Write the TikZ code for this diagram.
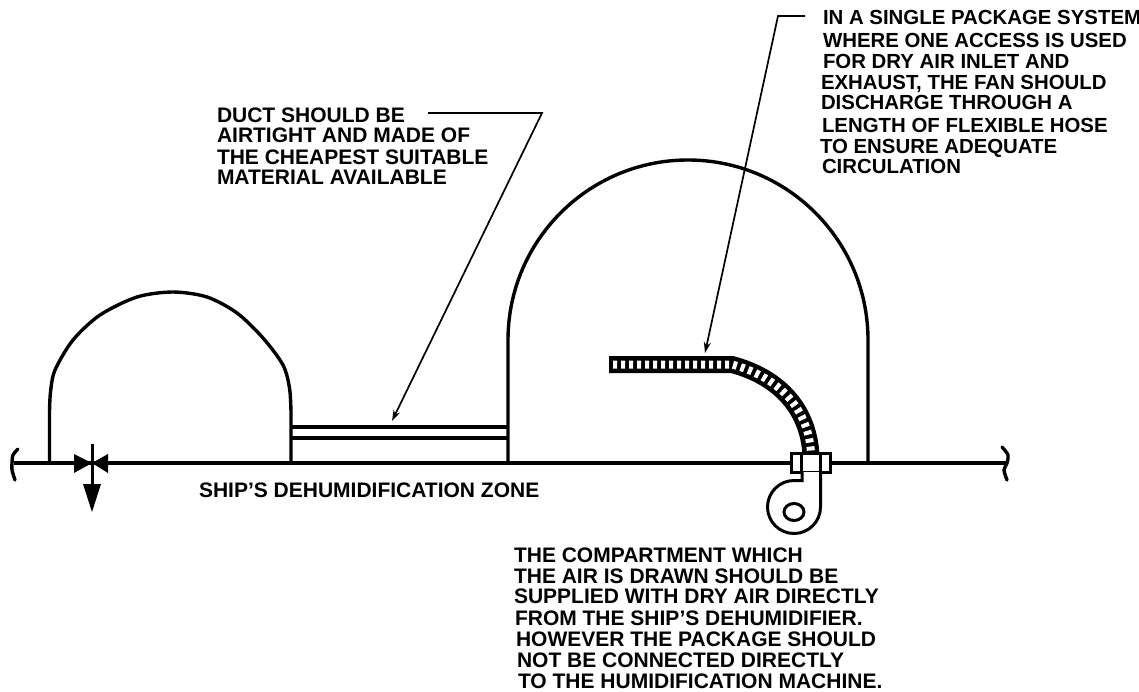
\documentclass[tikz,border=0pt]{standalone}
\usepackage{fontspec}
\setmainfont{Liberation Sans}
\usetikzlibrary{arrows.meta}
\tikzset{
  lab/.style={anchor=base west,inner sep=0pt,outer sep=0pt,font=\fontsize{21}{23}\selectfont\bfseries},
  labtop/.style={lab,font=\fontsize{20.4}{23}\selectfont\bfseries},
  wall/.style={line width=3.4pt,line cap=butt,line join=round},
  squig/.style={line width=3.4pt,line cap=round},
  leader/.style={line width=1.7pt,-{Stealth[length=11pt,width=7pt]},line join=miter},
  fanline/.style={line width=3pt}
}
\begin{document}
\begin{tikzpicture}[x=1pt,y=-1pt]
\useasboundingbox (0,0) rectangle (1139,691);
% ship line
\draw[wall] (14,463) -- (1006,463);
\draw[squig] plot[smooth] coordinates {(18,449) (13,455) (12,463) (12,470) (15,480)};
\draw[squig] plot[smooth] coordinates {(1002,447) (1008,455) (1007,463) (1004,470) (1007,480)};
% small dome
\draw[wall] (49.5,463) -- (49.5,412) plot[smooth] coordinates {(49.5,412) (50.5,392) (55,370) (73,340) (100,315) (137,297) (173,292) (207,297) (237,313) (263,338) (283,365) (289.5,388) (291,412)} -- (291,463);
% large dome
\draw[wall] (508,463) -- (508,340) arc[start angle=180,end angle=0,radius=180pt] -- (868,463);
% duct
\draw[wall] (291,427) -- (508,427);
\draw[wall] (291,438) -- (508,438);
% valve
\fill (74,454) -- (92,463) -- (74,473) -- cycle;
\fill (108,454) -- (92,463) -- (108,473) -- cycle;
\draw[line width=3pt] (92,444) -- (92,486);
\fill (83,484) -- (101,484) -- (92,512) -- cycle;
% hose
\draw[line width=17pt,line join=round] (609,364.5) -- (732,364.5) .. controls (775,376) and (808,405) .. (811,455);
\draw[line width=8pt,white,dash pattern=on 4pt off 4pt] (613,364.5) -- (732,364.5) .. controls (775,376) and (808,405) .. (811,453);
% fan
\fill[white] (792,453) rectangle (829,472);
\draw[fanline] (791.5,453.5) rectangle (830,472);
\draw[fanline,fill=white] (801,453) rectangle (820,472);
\fill[white] (803,472) rectangle (819,482);
\draw[fanline] (820.5,472) -- (820.5,507) arc[start angle=0,end angle=-270,radius=26.5pt] -- (802,480.5) -- (802,472);
\draw[fanline] (794,512) ellipse[x radius=10pt,y radius=8.5pt];
% labels
\node[lab] (d1) at (217,122) {DUCT SHOULD BE};
\node[lab] (d2) at (217,142) {AIRTIGHT AND MADE OF};
\node[lab] (d3) at (217,164) {THE CHEAPEST SUITABLE};
\node[lab] (d4) at (217,184) {MATERIAL AVAILABLE};
\node[labtop] (t1) at (823,24) {IN A SINGLE PACKAGE SYSTEM};
\node[labtop] (t2) at (823,47) {WHERE ONE ACCESS IS USED};
\node[labtop] (t3) at (823,68) {FOR DRY AIR INLET AND};
\node[labtop] (t4) at (821,89) {EXHAUST, THE FAN SHOULD};
\node[labtop] (t5) at (821,109) {DISCHARGE THROUGH A};
\node[labtop] (t6) at (822,132) {LENGTH OF FLEXIBLE HOSE};
\node[labtop] (t7) at (820,153) {TO ENSURE ADEQUATE};
\node[labtop] (t8) at (822,173) {CIRCULATION};
\node[lab] (z) at (199,497) {SHIP'S DEHUMIDIFICATION ZONE};
\node[lab] (b1) at (514,562) {THE COMPARTMENT WHICH};
\node[lab] (b2) at (514,583) {THE AIR IS DRAWN SHOULD BE};
\node[lab] (b3) at (514,603) {SUPPLIED WITH DRY AIR DIRECTLY};
\node[lab] (b4) at (515,625) {FROM THE SHIP'S DEHUMIDIFIER.};
\node[lab] (b5) at (516,646) {HOWEVER THE PACKAGE SHOULD};
\node[lab] (b6) at (517,667) {NOT BE CONNECTED DIRECTLY};
\node[lab] (b7) at (518,688) {TO THE HUMIDIFICATION MACHINE.};
% leaders
\coordinate (dstart) at (428,113);
\coordinate (dbend) at (542,113);
\coordinate (dtip) at (392,421);
\coordinate (tstart) at (805,16);
\coordinate (tbend) at (778,16);
\coordinate (ttip) at (705,353);
\draw[leader] (dstart) -- (dbend) -- (dtip);
\draw[leader] (tstart) -- (tbend) -- (ttip);
\end{tikzpicture}
\end{document}
